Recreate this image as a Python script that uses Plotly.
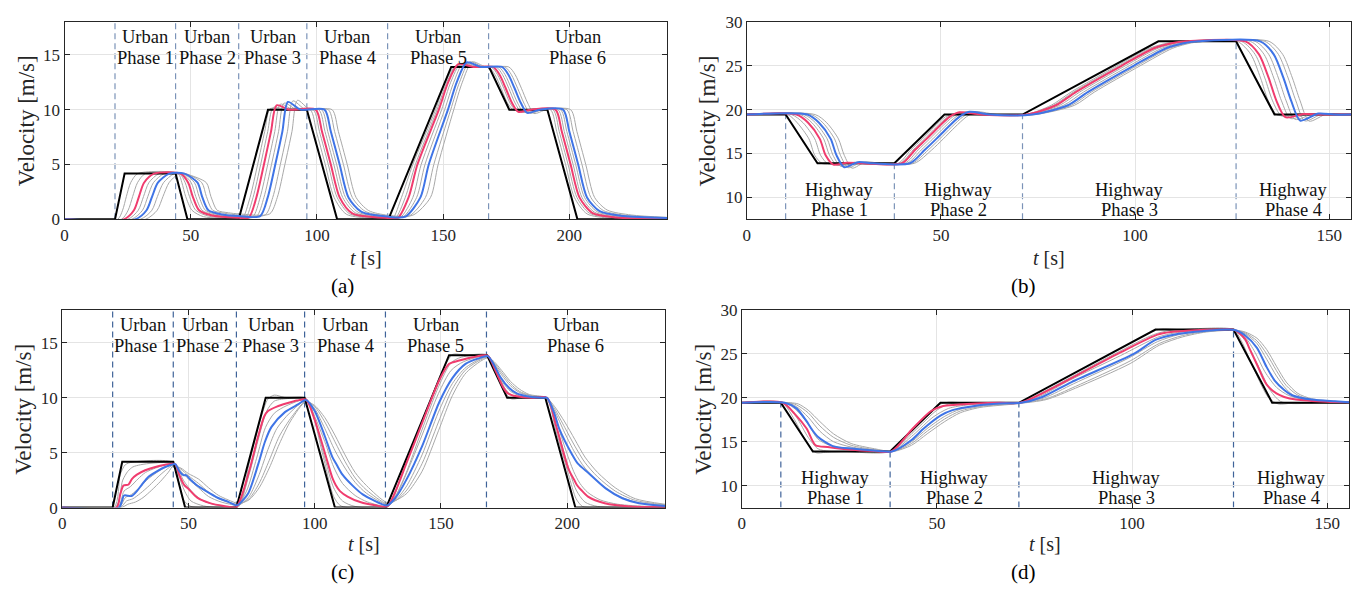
import plotly.graph_objects as go

# ---------------- data ----------------
URBAN_PHASES = [20, 44, 69, 96, 128, 168]
URBAN_END = 238.7
HIGHWAY_PHASES = [10, 38, 71, 126]
HIGHWAY_PHASE_TOP = [19.44, 13.89, 19.44, 27.78]
HIGHWAY_END = 155.6

URBAN_LABELS = ["Phase 1", "Phase 2", "Phase 3", "Phase 4", "Phase 5", "Phase 6"]
HIGHWAY_LABELS = ["Phase 1", "Phase 2", "Phase 3", "Phase 4"]

LEAD_URBAN = [(0, 0), (20, 0), (23.8, 4.17), (44, 4.17), (48.7, 0), (69, 0), (80.6, 10), (96, 10),
              (108, 0), (128.3, 0), (153.2, 13.89), (168.2, 13.89), (176.2, 10), (191.3, 10),
              (203.2, 0), (238.7, 0)]
LEAD_HIGHWAY = [(0, 19.44), (10, 19.44), (18.2, 13.89), (38, 13.89), (50.9, 19.44), (71, 19.44),
                (106, 27.78), (126, 27.78), (135.9, 19.44), (155.6, 19.44)]

# panel (a) followers
A_G1 = [(0, 0), (21, 0), (23, 0.83), (24.5, 2.08), (26.2, 3.34), (29, 4.17), (45, 4.17), (46.5, 3.34),
        (48, 2.08), (50.5, 0.83), (55, 0.25), (69, 0.05), (70.5, 0.05), (73.5, 2), (76.5, 5), (79.3, 8),
        (81.5, 10.1), (86.5, 10), (97.3, 10), (99.8, 8), (103.3, 5), (106.8, 2), (111.8, 0.45),
        (128, 0.05), (130, 0.05), (133.5, 2), (138, 5), (147, 10), (150.8, 12.5), (155, 14.0),
        (160, 13.89), (168, 13.89), (170.5, 13.2), (173, 11.95), (175.5, 10.6), (178, 9.95), (183, 10),
        (192.5, 10), (195, 8), (198.5, 5), (202, 2), (207, 0.5), (216.5, 0.1), (238.7, 0.02)]
A_G2 = [(0, 0), (22.5, 0), (25.2, 0.83), (27, 2.08), (28.9, 3.34), (32, 4.17), (45.5, 4.17), (47.8, 3.34),
        (49.5, 2.08), (52, 0.83), (57, 0.3), (69, 0.1), (71.7, 0.1), (74.7, 2), (77.7, 5), (80.5, 8),
        (82.7, 10.2), (87.7, 10), (98.5, 10), (101, 8), (104.5, 5), (108, 2), (113, 0.5), (128, 0.08),
        (131, 0.08), (135, 2), (139, 5), (147.6, 10), (151.4, 12.5), (155.5, 14.05), (161, 13.89),
        (169, 13.89), (171.5, 13.2), (174, 11.95), (176.5, 10.6), (179, 9.9), (184, 10), (193.5, 10),
        (196, 8), (199.5, 5), (203, 2), (208, 0.55), (217.5, 0.15), (238.7, 0.04)]
A_PINK = [(0, 0), (23.5, 0), (27.5, 0.83), (29.5, 2.08), (31.5, 3.34), (35.5, 4.17), (46, 4.17), (49, 3.34),
          (50.8, 2.08), (53.3, 0.83), (58.5, 0.35), (69, 0.15), (73, 0.15), (76, 2), (79, 5), (81.8, 8),
          (84, 10.4), (89, 10), (99.5, 10), (102, 8), (105.5, 5), (109, 2), (114, 0.55), (128, 0.12),
          (132, 0.12), (136.3, 2), (139.8, 5), (148.3, 10), (152, 12.5), (156, 14.15), (162, 13.89),
          (169.8, 13.89), (172.3, 13.2), (174.8, 11.95), (177.3, 10.6), (179.8, 9.8), (184.8, 10),
          (194.5, 10), (197, 8), (200.5, 5), (204, 2), (209, 0.6), (218.5, 0.18), (238.7, 0.05)]
A_G3 = [(0, 0), (25, 0), (29.2, 0.83), (31.3, 2.08), (33.4, 3.34), (37.5, 4.17), (46.5, 4.17), (50.2, 3.34),
        (52, 2.08), (54.5, 0.83), (60, 0.38), (69, 0.2), (74.5, 0.2), (77.5, 2), (80.5, 5), (83.3, 8),
        (85.5, 10.5), (90.5, 10), (100.7, 10), (103.2, 8), (106.7, 5), (110.2, 2), (115.2, 0.6),
        (128, 0.16), (133, 0.16), (138, 2), (141.3, 5), (149.4, 10), (153, 12.5), (157, 14.2),
        (163, 13.89), (171, 13.89), (173.5, 13.2), (176, 11.95), (178.5, 10.6), (181, 9.78), (186, 10),
        (195.5, 10), (198, 8), (201.5, 5), (205, 2), (210, 0.65), (219.5, 0.22), (238.7, 0.07)]
A_G4 = [(0, 0), (26.5, 0), (30.9, 0.83), (33, 2.08), (35.2, 3.34), (39.5, 4.17), (47, 4.17), (51.5, 3.34),
        (53.3, 2.08), (55.8, 0.83), (61, 0.42), (69, 0.25), (76, 0.25), (79, 2), (82, 5), (84.8, 8),
        (87, 10.6), (92, 10), (101.8, 10), (104.3, 8), (107.8, 5), (111.3, 2), (116.3, 0.65), (128, 0.2),
        (134, 0.2), (139.5, 2), (142.8, 5), (150.6, 10), (154.2, 12.5), (158, 14.25), (164, 13.89),
        (172, 13.89), (174.5, 13.2), (177, 11.95), (179.5, 10.6), (182, 9.75), (187, 10), (196.5, 10),
        (199, 8), (202.5, 5), (206, 2), (211, 0.7), (220.5, 0.26), (238.7, 0.09)]
A_BLUE = [(0, 0), (28, 0), (32.5, 0.83), (34.7, 2.08), (37, 3.34), (41.5, 4.17), (47.5, 4.17), (52.7, 3.34),
          (54.5, 2.08), (57, 0.83), (62.5, 0.45), (69, 0.3), (77.5, 0.3), (80.5, 2), (83.5, 5), (86.3, 8),
          (88.5, 10.7), (93.5, 10), (103, 10), (105.5, 8), (109, 5), (112.5, 2), (117.5, 0.7), (128, 0.25),
          (135, 0.25), (141, 2), (144.3, 5), (151.9, 10), (155.4, 12.5), (159.3, 14.3), (165, 13.89),
          (173.3, 13.89), (175.8, 13.2), (178.3, 11.95), (180.8, 10.6), (183.3, 9.7), (188.3, 10),
          (197.5, 10), (200, 8), (203.5, 5), (207, 2), (212, 0.75), (221.5, 0.3), (238.7, 0.12)]
A_G5 = [(0, 0), (30, 0), (34.6, 0.83), (36.8, 2.08), (39.2, 3.34), (43.5, 4.17), (48, 4.17), (54.4, 3.34),
        (56.2, 2.08), (58.7, 0.83), (63.5, 0.55), (69, 0.4), (79.5, 0.4), (82.5, 2), (85.5, 5), (88.3, 8),
        (90.5, 10.8), (95.5, 10), (104.5, 10), (107, 8), (110.5, 5), (114, 2), (119, 0.75), (128, 0.3),
        (136.5, 0.3), (143, 2), (146.3, 5), (153, 10), (156.5, 12.5), (160.5, 14.35), (166, 13.89),
        (174.5, 13.89), (177, 13.2), (179.5, 11.95), (182, 10.6), (184.5, 9.68), (189.5, 10), (199, 10),
        (201.5, 8), (205, 5), (208.5, 2), (213.5, 0.8), (223, 0.35), (238.7, 0.15)]
A_G6 = [(0, 0), (32, 0), (36.7, 0.83), (39, 2.08), (41.4, 3.34), (45, 4.1), (48.5, 4.1), (56.2, 3.34),
        (58, 2.08), (60.5, 0.83), (65, 0.6), (69, 0.5), (81.3, 0.5), (84.3, 2), (87.3, 5), (90.1, 8),
        (92.3, 10.85), (97.3, 10), (106, 10), (108.5, 8), (112, 5), (115.5, 2), (120.5, 0.8), (128, 0.38),
        (138, 0.38), (145, 2), (148, 5), (154.2, 10), (157.6, 12.5), (161.5, 14.35), (167, 13.89),
        (176, 13.89), (178.5, 13.2), (181, 11.95), (183.5, 10.6), (186, 9.65), (191, 10), (200.5, 10),
        (203, 8), (206.5, 5), (210, 2), (215, 0.85), (224.5, 0.4), (238.7, 0.18)]

# panel (b) followers
B_G1 = [(0, 19.44), (10.5, 19.44), (13, 18.5), (16, 16.67), (17.5, 14.8), (19.5, 13.84), (23, 13.9),
        (27, 13.89), (39, 13.89), (42.2, 15.4), (45.2, 16.67), (48.2, 18.0), (51.2, 19.2), (53.7, 19.5),
        (59.2, 19.44), (71.8, 19.44), (78.4, 20.5), (83.5, 22), (95.3, 25), (103.7, 27), (108.5, 27.6),
        (112, 27.78), (126.3, 27.78), (129.8, 26.3), (132.3, 23.61), (134.3, 21.0), (136.6, 19.39),
        (141.3, 19.47), (145.3, 19.44), (155.6, 19.44)]
B_G2 = [(0, 19.44), (11.5, 19.44), (14.5, 18.5), (17.5, 16.67), (19, 14.8), (21, 13.79), (24.5, 13.92),
        (28.5, 13.89), (39.5, 13.89), (42.8, 15.4), (45.8, 16.67), (48.8, 18.0), (51.8, 19.2), (54.3, 19.6),
        (59.8, 19.44), (72, 19.44), (79, 20.5), (84.1, 22), (95.9, 25), (104.3, 27), (109.1, 27.6),
        (112.6, 27.78), (127.4, 27.78), (130.9, 26.3), (133.4, 23.61), (135.4, 21.0), (137.7, 19.29),
        (142.4, 19.5), (146.4, 19.44), (155.6, 19.44)]
B_PINK = [(0, 19.44), (12.8, 19.44), (15.8, 18.5), (18.8, 16.67), (20.3, 14.8), (22.3, 13.74), (25.8, 13.95),
          (29.8, 13.89), (40, 13.89), (43.3, 15.4), (46.3, 16.67), (49.3, 18.0), (52.3, 19.2), (54.8, 19.7),
          (60.3, 19.44), (72.2, 19.44), (79.6, 20.5), (84.7, 22), (96.5, 25), (104.9, 27), (109.7, 27.6),
          (113.2, 27.78), (128.4, 27.78), (131.9, 26.3), (134.4, 23.61), (136.4, 21.0), (138.7, 19.14),
          (143.4, 19.5), (147.4, 19.44), (155.6, 19.44)]
B_G3 = [(0, 19.44), (13.8, 19.44), (16.8, 18.5), (19.8, 16.67), (21.3, 14.8), (23.3, 13.64), (26.8, 13.98),
        (30.8, 13.89), (40.7, 13.89), (44.1, 15.4), (47.1, 16.67), (50.1, 18.0), (53.1, 19.2), (55.6, 19.7),
        (61.1, 19.44), (72.6, 19.44), (80.6, 20.5), (85.7, 22), (97.5, 25), (105.9, 27), (110.7, 27.6),
        (114.2, 27.78), (129.7, 27.78), (133.2, 26.3), (135.7, 23.61), (137.7, 21.0), (140, 18.99),
        (144.7, 19.52), (148.7, 19.44), (155.6, 19.44)]
B_G4 = [(0, 19.44), (14.7, 19.44), (17.7, 18.5), (20.7, 16.67), (22.2, 14.8), (24.2, 13.54), (27.7, 14.0),
        (31.7, 13.89), (41.3, 13.89), (44.9, 15.4), (47.9, 16.67), (50.9, 18.0), (53.9, 19.2), (56.4, 19.72),
        (61.9, 19.44), (73, 19.44), (81.6, 20.5), (86.7, 22), (98.5, 25), (106.9, 27), (111.7, 27.6),
        (115.2, 27.78), (130.9, 27.78), (134.4, 26.3), (136.9, 23.61), (138.9, 21.0), (141.2, 18.89),
        (145.9, 19.53), (149.9, 19.44), (155.6, 19.44)]
B_BLUE = [(0, 19.44), (15.6, 19.44), (18.6, 18.5), (21.6, 16.67), (23.1, 14.8), (25.1, 13.44), (28.6, 14.02),
          (32.6, 13.89), (42, 13.89), (45.8, 15.4), (48.8, 16.67), (51.8, 18.0), (54.8, 19.2), (57.3, 19.75),
          (62.8, 19.44), (73.5, 19.44), (82.7, 20.5), (87.8, 22), (99.6, 25), (108, 27), (112.8, 27.6),
          (116.3, 27.78), (132.2, 27.78), (135.7, 26.3), (138.2, 23.61), (140.2, 21.0), (142.5, 18.76),
          (147.2, 19.55), (151.2, 19.44), (155.6, 19.44)]
B_G5 = [(0, 19.44), (16.6, 19.44), (19.6, 18.5), (22.6, 16.67), (24.1, 14.8), (26.1, 13.39), (29.6, 14.03),
        (33.6, 13.89), (42.6, 13.89), (46.7, 15.4), (49.7, 16.67), (52.7, 18.0), (55.7, 19.2), (58.2, 19.75),
        (63.7, 19.44), (73.8, 19.44), (83.6, 20.5), (88.7, 22), (100.5, 25), (108.9, 27), (113.7, 27.6),
        (117.2, 27.78), (133.4, 27.78), (136.9, 26.3), (139.4, 23.61), (141.4, 21.0), (143.7, 18.72),
        (148.4, 19.55), (152.4, 19.44), (155.6, 19.44)]
B_G6 = [(0, 19.44), (17.6, 19.44), (20.6, 18.5), (23.6, 16.67), (25.1, 14.8), (27.1, 13.34), (30.6, 14.04),
        (34.6, 13.89), (43.2, 13.89), (47.6, 15.4), (50.6, 16.67), (53.6, 18.0), (56.6, 19.2), (59.1, 19.75),
        (64.6, 19.44), (74.2, 19.44), (84.4, 20.5), (89.5, 22), (101.3, 25), (109.7, 27), (114.5, 27.6),
        (118, 27.78), (134.5, 27.78), (138, 26.3), (140.5, 23.61), (142.5, 21.0), (144.8, 18.69),
        (149.5, 19.55), (153.5, 19.44), (155.6, 19.44)]

# panel (c) followers
C_G1 = [(0, 0), (20.5, 0), (23, 3.0), (25, 3.9), (28, 4.15), (44, 4.1), (46, 2.5), (48, 0.7), (51, 0.1),
        (55, 0), (69.5, 0), (74, 4), (78.5, 8), (81.5, 9.9), (84, 10.25), (88, 10.05), (96, 10), (98, 9.5),
        (103, 5), (107.5, 1), (110, 0.2), (113, 0), (129, 0.05), (135, 3.5), (143, 8), (150.5, 12.5),
        (154.5, 13.95), (156, 14.0), (160, 13.9), (168.5, 13.9), (172.5, 12.0), (176, 10.3), (178, 9.9),
        (182, 10.0), (191.5, 10), (195.5, 7), (200.5, 3), (203.5, 0.8), (206, 0.1), (210, 0), (238.7, 0)]
C_G2 = [(0, 0), (21, 0), (24, 2.5), (26, 3.3), (28, 3.7), (31, 3.9), (36, 4.05), (44, 4.05), (46, 3.0),
        (48.5, 1.5), (51, 0.6), (56, 0.15), (62, 0), (69.5, 0.1), (74, 3), (78, 6.5), (81, 8.8), (84, 9.7),
        (90, 9.95), (96.5, 9.95), (100.5, 7.5), (104, 4.5), (107.5, 1.8), (111, 0.6), (116, 0.1), (129, 0.1),
        (135, 2.5), (142, 6.8), (149, 11.0), (154, 13.2), (158, 13.7), (168.5, 13.85), (172, 12.5),
        (175.5, 10.8), (179, 10.1), (184, 10.0), (192, 10), (196, 7.2), (200, 4.0), (203.5, 1.6), (207, 0.5),
        (212, 0.1), (238.7, 0)]
C_PINK = [(0, 0), (21.5, 0), (23, 1.2), (24.3, 2.0), (26.3, 2.1), (27.6, 2.6), (29.6, 3.0), (32.9, 3.4),
          (36.9, 3.7), (40.8, 3.9), (44, 4.0), (45, 3.9), (46.5, 2.9), (48.3, 2.06), (50, 1.7), (53.5, 0.9),
          (58.5, 0.4), (64, 0.15), (69, 0.05), (71, 1.0), (74.5, 3.7), (77.5, 6.4), (80, 8.3), (81.5, 8.8),
          (85, 9.2), (89, 9.5), (93, 9.75), (96.5, 9.85), (100, 8.0), (104, 5.0), (107, 2.7), (108.3, 2.06),
          (110, 1.5), (113, 1.0), (118, 0.5), (124, 0.2), (128.7, 0.1), (132, 1.5), (136.2, 3.97),
          (142.7, 7.8), (149.3, 11.6), (153.2, 13.1), (157.2, 13.4), (162.5, 13.7), (168.5, 13.85),
          (171.5, 12.5), (174.5, 11.0), (176.5, 10.4), (180, 10.15), (186, 10.0), (192, 10), (195.5, 7.5),
          (200.5, 3.5), (203, 2.4), (203.8, 2.06), (205.5, 1.6), (208.2, 1.0), (214.8, 0.4), (225, 0.1),
          (238.7, 0.05)]
C_G3 = [(0, 0), (22, 0), (24.5, 1.5), (27, 1.9), (30, 2.6), (33, 3.2), (37, 3.6), (41, 3.9), (44, 4.0),
        (46, 3.5), (48, 2.5), (52, 1.3), (56, 0.6), (62, 0.2), (69, 0.1), (73, 1.5), (77, 4.5), (80.5, 7.3),
        (84, 8.6), (89, 9.3), (96.5, 9.8), (100, 8.3), (104, 6.0), (107.5, 3.7), (111, 2.2), (116, 1.1),
        (121, 0.5), (128.7, 0.15), (132.5, 1.2), (136.5, 3.2), (142.5, 6.6), (149, 10.4), (154, 12.5),
        (159, 13.3), (168.5, 13.8), (171.5, 12.8), (174.5, 11.4), (177.5, 10.6), (181, 10.2), (188, 10.0),
        (192, 10), (195.5, 8.0), (199, 5.5), (202.5, 3.3), (205, 2.2), (208, 1.4), (213, 0.7), (220, 0.3),
        (232, 0.1), (238.7, 0.07)]
C_BLUE = [(0, 0), (22.5, 0), (23.7, 0.6), (24.5, 1.1), (27.5, 1.05), (29.6, 1.5), (31.6, 2.1), (34.2, 2.8),
          (37.5, 3.3), (40.8, 3.7), (44, 3.95), (44.8, 3.95), (46.5, 3.3), (48, 2.95), (49, 2.95), (51, 2.5),
          (53.2, 2.06), (58.5, 1.3), (62.5, 0.8), (66, 0.5), (69, 0.2), (70, 0.3), (73.7, 1.3), (77.7, 4.0),
          (80.3, 6.0), (82.9, 7.35), (88.2, 8.7), (93.4, 9.4), (96.5, 9.8), (100, 8.8), (104, 6.5), (107, 4.6),
          (108.7, 3.9), (111, 3.0), (115, 2.0), (119, 1.2), (123, 0.7), (128.7, 0.2), (132, 0.9),
          (136.2, 2.5), (142.7, 5.7), (149.3, 9.6), (154.5, 11.8), (159.7, 13.1), (165, 13.6), (168.5, 13.8),
          (171, 13.0), (173.5, 11.9), (177, 10.9), (180, 10.4), (184, 10.15), (190, 10.0), (192, 10),
          (195, 8.5), (196.8, 7.2), (202, 4.8), (204.2, 4.0), (208.6, 3.1), (215.2, 1.75), (221.8, 0.85),
          (228.4, 0.4), (238.7, 0.15)]
C_G4 = [(0, 0), (22.5, 0), (25, 0.9), (27.5, 1.2), (31, 1.9), (34, 2.6), (37.5, 3.2), (41, 3.7), (44, 3.95),
        (47, 3.3), (50, 2.6), (54, 1.8), (58, 1.0), (63, 0.5), (69, 0.2), (70, 0.2), (74, 1.0), (78, 3.0),
        (81.5, 5.3), (85, 7.2), (90, 8.6), (96.5, 9.75), (100, 9.0), (104, 7.2), (108, 5.2), (112, 3.6),
        (116, 2.3), (120.5, 1.3), (128.7, 0.3), (132.5, 0.8), (136.5, 2.0), (142.5, 4.8), (149, 8.7),
        (154.5, 11.3), (160, 12.8), (168.5, 13.75), (171, 13.1), (174, 12.1), (177.5, 11.1), (181, 10.5),
        (185, 10.2), (190, 10.05), (192, 10), (195, 8.8), (199, 6.8), (203, 5.0), (207, 3.6), (212, 2.4),
        (219, 1.2), (227, 0.5), (238.7, 0.2)]
C_G5 = [(0, 0), (23, 0), (25.5, 0.6), (28, 0.8), (31, 1.3), (34.5, 2.0), (38, 2.8), (41, 3.4), (44, 3.85),
        (47, 3.5), (50, 2.9), (54, 2.2), (58, 1.4), (62, 0.8), (69, 0.3), (70, 0.3), (74, 0.8), (78, 2.2),
        (82, 4.3), (86, 6.5), (91, 8.3), (96.5, 9.7), (100, 9.2), (104, 7.8), (108, 6.0), (112, 4.2),
        (116, 2.7), (120.5, 1.6), (128.7, 0.35), (132.5, 0.7), (136.5, 1.6), (142.5, 4.0), (149, 7.8),
        (154.5, 10.8), (160, 12.6), (168.5, 13.7), (171, 13.2), (174, 12.3), (177.5, 11.3), (181, 10.6),
        (185, 10.25), (191, 10.05), (192, 10), (195, 9.0), (199, 7.3), (203, 5.6), (207, 4.1), (212, 2.8),
        (219, 1.5), (227, 0.65), (238.7, 0.25)]
C_G6 = [(0, 0), (23.5, 0), (26, 0.3), (29, 0.5), (32, 0.9), (35.5, 1.6), (39, 2.4), (42, 3.2), (44, 3.8),
        (47, 3.6), (50, 3.1), (54, 2.6), (58, 1.8), (62, 1.1), (69, 0.4), (70, 0.35), (74, 0.7), (78, 1.8),
        (82, 3.6), (86, 5.8), (90.5, 7.9), (96.5, 9.65), (100, 9.3), (104, 8.2), (108, 6.6), (112, 4.8),
        (116, 3.2), (120.5, 2.0), (128.7, 0.45), (132.5, 0.7), (136.5, 1.3), (142.5, 3.3), (149, 7.0),
        (154.5, 10.2), (160, 12.3), (168.5, 13.65), (171, 13.3), (174, 12.5), (177.5, 11.5), (181, 10.8),
        (185, 10.3), (191, 10.1), (192, 10), (195, 9.2), (199, 7.8), (203, 6.2), (207, 4.6), (212, 3.2),
        (219, 1.8), (227, 0.8), (238.7, 0.3)]

# panel (d) followers
D_G1 = [(0, 19.44), (10.3, 19.44), (13.5, 17.5), (16.5, 15), (19, 13.75), (21.5, 13.8), (26, 13.89),
        (38, 13.89), (44, 16.5), (50.5, 19.2), (53, 19.5), (57, 19.44), (71, 19.44), (75.5, 20.5), (94.5, 25),
        (105, 27.5), (107.5, 27.85), (112, 27.78), (126, 27.78), (128, 26.5), (131.5, 23), (135, 20),
        (137.5, 19.3), (141, 19.4), (146, 19.44), (155.6, 19.44)]
D_G2 = [(0, 19.44), (10.5, 19.44), (14, 17.8), (17, 15.5), (19.5, 14.2), (22.5, 13.9), (30, 13.89),
        (38.2, 13.89), (44.2, 16.2), (50, 18.6), (53, 19.3), (58, 19.45), (71.2, 19.44), (76, 20.4),
        (95.5, 25), (105.5, 27.2), (110, 27.7), (118, 27.78), (126.2, 27.75), (129, 26.5), (132.5, 23.5),
        (135.5, 20.8), (138, 19.6), (141, 19.35), (148, 19.44), (155.6, 19.44)]
D_PINK = [(0, 19.44), (10.5, 19.44), (13.5, 18.2), (16.6, 16.5), (18.9, 14.6), (22, 14.4), (28, 14.1),
          (34, 13.95), (38.3, 13.89), (43.8, 16.5), (48.5, 18.5), (51.6, 19.06), (55, 19.2), (60, 19.35),
          (66, 19.44), (71.3, 19.44), (76.5, 20.4), (96.3, 25), (106.5, 27.2), (110, 27.5), (116, 27.7),
          (122, 27.78), (126.2, 27.75), (129, 26.7), (130, 25.7), (132, 23.8), (134.5, 21.5), (137, 20.5),
          (139, 20.1), (142, 19.8), (150, 19.55), (155.6, 19.5)]
D_G3 = [(0, 19.44), (11, 19.44), (14, 18.6), (17, 17), (19.5, 15.3), (22.5, 14.6), (28, 14.2), (34, 14.0),
        (38.5, 13.89), (44, 15.8), (49, 17.8), (53, 18.8), (58, 19.2), (66, 19.4), (71.5, 19.44), (76.5, 20.2),
        (84, 22), (97, 24.8), (106.5, 26.9), (111, 27.4), (118, 27.7), (125, 27.78), (126.3, 27.73),
        (129, 26.9), (131.5, 25.2), (134, 23), (137, 21.2), (140, 20.3), (144, 19.8), (150, 19.55),
        (155.6, 19.5)]
D_BLUE = [(0, 19.44), (11, 19.44), (14, 18.8), (16.5, 17.4), (17.8, 16.5), (19.4, 15.6), (23.3, 14.5),
          (28.8, 14.2), (35, 13.95), (38.5, 13.89), (43.5, 15.2), (46.6, 16.5), (51, 18.0), (54, 18.6),
          (60, 19.1), (66, 19.35), (71.5, 19.44), (77, 20.1), (84.5, 21.8), (100.4, 25), (106, 26.6),
          (112, 27.3), (118, 27.6), (126.3, 27.73), (129, 27.1), (132, 25.7), (134.5, 23.5), (136.5, 22),
          (139, 20.9), (141, 20.3), (146, 19.8), (152, 19.6), (155.6, 19.5)]
D_G4 = [(0, 19.44), (11.5, 19.44), (14, 19.0), (17, 17.8), (20, 16.2), (23.5, 15.0), (28, 14.4), (34, 14.05),
        (38.5, 13.89), (43.5, 15.0), (47.5, 16.5), (52, 17.9), (56, 18.7), (61, 19.1), (71, 19.4),
        (77.5, 20.0), (85, 21.6), (99, 24.5), (106.5, 26.4), (112, 27.2), (119, 27.6), (126.5, 27.72),
        (129, 27.3), (132, 26.2), (134.5, 24.4), (137, 22.5), (139.5, 21.0), (142, 20.1), (146, 19.7),
        (152, 19.55), (155.6, 19.5)]
D_G5 = [(0, 19.44), (12, 19.44), (14, 19.2), (17, 18.3), (20, 16.8), (23.5, 15.5), (28, 14.6), (34, 14.1),
        (38.7, 13.89), (43.5, 14.8), (47.5, 16.2), (52, 17.6), (56, 18.5), (61, 19.0), (71, 19.4),
        (78, 19.9), (85.5, 21.3), (99.5, 24.2), (107, 26.2), (113, 27.1), (119, 27.55), (126.5, 27.72),
        (129, 27.4), (132, 26.5), (134.5, 25.0), (137, 23.1), (139.5, 21.4), (142.5, 20.3), (146, 19.8),
        (152, 19.6), (155.6, 19.5)]
D_G6 = [(0, 19.44), (12.5, 19.44), (14.5, 19.3), (17, 18.6), (20, 17.3), (23.5, 15.9), (28, 14.8), (34, 14.2),
        (38.8, 13.89), (43.5, 14.6), (47.5, 15.9), (52, 17.3), (56, 18.3), (61, 18.9), (71, 19.35),
        (78, 19.8), (85.5, 21.1), (99.5, 23.9), (107, 26.0), (113, 26.95), (119, 27.5), (126.5, 27.7),
        (129, 27.5), (132, 26.8), (134.5, 25.5), (137, 23.6), (139.5, 21.8), (142.5, 20.5), (146, 19.9),
        (152, 19.6), (155.6, 19.5)]

# ---------------- styling ----------------
W, H = 1356, 595
FONT = "Liberation Serif"
TXT = "#262626"
GRAY = "#a8a8a8"
PINK = "#f03c6e"
BLUE = "#3f74e6"
BLACK = "#000000"
DASH_LIGHT = "#7b93b8"
DASH_DARK = "#3f6399"


def px_x(p):
    return p / W


def px_y(p):
    return 1 - p / H


panels = [
    dict(name="a", ax="x", ay="y", xdom=(60.7, 665), ydom=(13.3, 217.3), xr=(0, URBAN_END), yr=(0, 18),
         lead=LEAD_URBAN, grays=[A_G1, A_G2, A_G3, A_G4, A_G5, A_G6], pink=A_PINK, blue=A_BLUE,
         kind="urban", dash=DASH_LIGHT, ytitle_x=22.7, xtitle_y=256.7, cap_x=340, cap_y=286),
    dict(name="b", ax="x2", ay="y2", xdom=(745, 1351), ydom=(13.3, 217.3), xr=(0, HIGHWAY_END), yr=(7.5, 30),
         lead=LEAD_HIGHWAY, grays=[B_G1, B_G2, B_G3, B_G4, B_G5, B_G6], pink=B_PINK, blue=B_BLUE,
         kind="highway", dash=DASH_LIGHT, ytitle_x=706, xtitle_y=256.7, cap_x=1023, cap_y=286),
    dict(name="c", ax="x3", ay="y3", xdom=(58.3, 663), ydom=(311, 515), xr=(0, URBAN_END), yr=(0, 18),
         lead=LEAD_URBAN, grays=[C_G1, C_G2, C_G3, C_G4, C_G5, C_G6], pink=C_PINK, blue=C_BLUE,
         kind="urban", dash=DASH_DARK, ytitle_x=20, xtitle_y=553, cap_x=340, cap_y=582),
    dict(name="d", ax="x4", ay="y4", xdom=(740, 1349), ydom=(311, 515), xr=(0, HIGHWAY_END), yr=(7.5, 30),
         lead=LEAD_HIGHWAY, grays=[D_G1, D_G2, D_G3, D_G4, D_G5, D_G6], pink=D_PINK, blue=D_BLUE,
         kind="highway", dash=DASH_DARK, ytitle_x=702, xtitle_y=553, cap_x=1023, cap_y=582),
]

fig = go.Figure()
shapes = []
annotations = []
layout_axes = {}


def add_line(pts, ax, ay, color, width, spline=True):
    xs = [p[0] for p in pts]
    ys = [p[1] for p in pts]
    line = dict(color=color, width=width)
    if spline:
        line.update(shape="spline", smoothing=0.75)
    fig.add_trace(go.Scatter(x=xs, y=ys, mode="lines", line=line, xaxis=ax, yaxis=ay,
                             showlegend=False, hoverinfo="skip"))


def label(x, y, text, xref, yref, size=18.5):
    annotations.append(dict(x=x, y=y, xref=xref, yref=yref, text=text, showarrow=False,
                            xanchor="center", yanchor="middle",
                            font=dict(family=FONT, size=size, color="#111111")))


for p in panels:
    ax, ay = p["ax"], p["ay"]
    for g in p["grays"]:
        add_line(g, ax, ay, GRAY, 1.0)
    add_line(p["lead"], ax, ay, BLACK, 2.0, spline=False)
    add_line(p["pink"], ax, ay, PINK, 2.0)
    add_line(p["blue"], ax, ay, BLUE, 2.0)

    xkey = "xaxis" + ax[1:]
    ykey = "yaxis" + ay[1:]
    if p["kind"] == "urban":
        xt = [0, 50, 100, 150, 200]
        yt = [0, 5, 10, 15]
    else:
        xt = [0, 50, 100, 150]
        yt = [10, 15, 20, 25, 30]
    common = dict(showline=True, linecolor=TXT, linewidth=1, mirror="allticks", ticks="inside",
                  ticklen=5, tickcolor=TXT, showgrid=True, gridcolor="#e4e4e4", gridwidth=1,
                  zeroline=False, tickfont=dict(family=FONT, size=17, color=TXT))
    layout_axes[xkey] = dict(domain=[px_x(p["xdom"][0]), px_x(p["xdom"][1])], range=list(p["xr"]),
                             tickvals=xt, anchor=ay, **common)
    layout_axes[ykey] = dict(domain=[px_y(p["ydom"][1]), px_y(p["ydom"][0])], range=list(p["yr"]),
                             tickvals=yt, anchor=ax, **common)

    if p["kind"] == "urban":
        bounds = URBAN_PHASES + [URBAN_END]
        for xb in URBAN_PHASES:
            shapes.append(dict(type="line", xref=ax, yref=ay, x0=xb, x1=xb, y0=p["yr"][0], y1=p["yr"][1],
                               line=dict(color=p["dash"], width=1.2, dash="6px,4px"), layer="below"))
        for i, lab in enumerate(URBAN_LABELS):
            xc = (bounds[i] + bounds[i + 1]) / 2
            label(xc, 16.6, "Urban", ax, ay)
            label(xc, 14.75, lab, ax, ay)
    else:
        bounds = HIGHWAY_PHASES + [HIGHWAY_END]
        for xb, top in zip(HIGHWAY_PHASES, HIGHWAY_PHASE_TOP):
            shapes.append(dict(type="line", xref=ax, yref=ay, x0=xb, x1=xb, y0=p["yr"][0], y1=top,
                               line=dict(color=p["dash"], width=1.2, dash="6px,4px"), layer="below"))
        for i, lab in enumerate(HIGHWAY_LABELS):
            xc = (bounds[i] + bounds[i + 1]) / 2
            label(xc, 10.9, "Highway", ax, ay)
            label(xc, 8.6, lab, ax, ay)

    ymid = (p["ydom"][0] + p["ydom"][1]) / 2
    xmid = (p["xdom"][0] + p["xdom"][1]) / 2
    annotations.append(dict(x=px_x(p["ytitle_x"]), y=px_y(ymid), xref="paper", yref="paper",
                            text="Velocity [m/s]", textangle=-90, showarrow=False,
                            xanchor="center", yanchor="middle",
                            font=dict(family=FONT, size=23, color=TXT)))
    annotations.append(dict(x=px_x(xmid), y=px_y(p["xtitle_y"]), xref="paper", yref="paper",
                            text="<i>t</i> [s]", showarrow=False, xanchor="center", yanchor="middle",
                            font=dict(family=FONT, size=20, color=TXT)))
    annotations.append(dict(x=px_x(p["cap_x"]), y=px_y(p["cap_y"]), xref="paper", yref="paper",
                            text="(" + p["name"] + ")", showarrow=False, xanchor="center", yanchor="middle",
                            font=dict(family=FONT, size=21, color="#000000")))

fig.update_layout(width=W, height=H, margin=dict(l=0, r=0, t=0, b=0), paper_bgcolor="white",
                  plot_bgcolor="white", shapes=shapes, annotations=annotations, showlegend=False,
                  **layout_axes)

fig.write_html("out.html",
               config={"displayModeBar": False, "staticPlot": True},
               post_script="document.body.style.margin='0px';document.body.style.overflow='hidden';")
